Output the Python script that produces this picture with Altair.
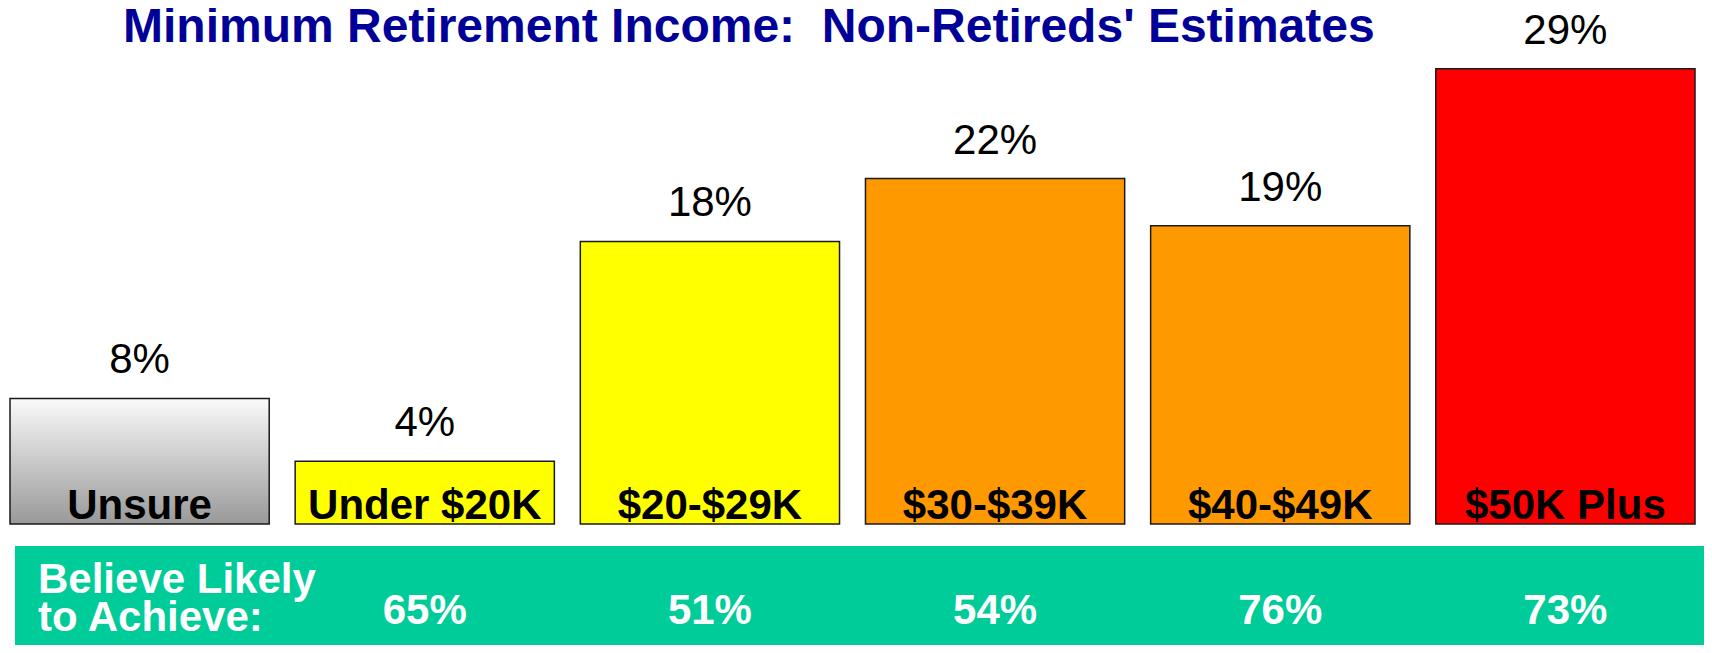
import altair as alt
import pandas as pd

categories = ["Unsure", "Under $20K", "$20-$29K", "$30-$39K", "$40-$49K", "$50K Plus"]
estimate_pct = [8, 4, 18, 22, 19, 29]
likely_pct = [None, 65, 51, 54, 76, 73]
bar_colors = ["#CCCCCC", "#FFFF00", "#FFFF00", "#FF9900", "#FF9900", "#FF0000"]
title_text = "Minimum Retirement Income:\u00a0 Non-Retireds' Estimates"
row_label = "Believe Likely\nto Achieve:"

df = pd.DataFrame({"cat": categories, "pct": estimate_pct, "likely": likely_pct})

FONT = "Liberation Sans"

x_enc = alt.X(
    "cat:N",
    sort=categories,
    scale=alt.Scale(domain=categories, range=[2, 1687], paddingInner=0.091, paddingOuter=0),
    axis=None,
)
y_scale = alt.Scale(domain=[0, 30], range=[516, 45])

base = alt.Chart(df)

band = alt.Chart(pd.DataFrame({"a": [0]})).mark_rect(color="#00CC99").encode(
    x=alt.value(7), x2=alt.value(1696), y=alt.value(538), y2=alt.value(637)
)

gradient = alt.Gradient(
    gradient="linear",
    stops=[alt.GradientStop(color="#FAFAFA", offset=0), alt.GradientStop(color="#999999", offset=1)],
    x1=0, x2=0, y1=0, y2=1,
)

unsure_bar = base.transform_filter(alt.datum.cat == "Unsure").mark_bar(
    fill=gradient, stroke="#1a1a1a", strokeWidth=1.5
).encode(x=x_enc, y=alt.Y("pct:Q", scale=y_scale, axis=None))

other_bars = base.transform_filter(alt.datum.cat != "Unsure").mark_bar(
    stroke="#1a1a1a", strokeWidth=1.5
).encode(
    x=x_enc,
    y=alt.Y("pct:Q", scale=y_scale, axis=None),
    fill=alt.Fill("cat:N", scale=alt.Scale(domain=categories, range=bar_colors), legend=None),
)

value_labels = base.transform_calculate(lbl="datum.pct + '%'").mark_text(
    font=FONT, fontSize=42, color="black", baseline="alphabetic", dy=-25
).encode(x=x_enc, y=alt.Y("pct:Q", scale=y_scale, axis=None), text="lbl:N")

cat_labels = base.mark_text(
    font=FONT, fontSize=42, fontWeight="bold", color="black", baseline="alphabetic", dy=-5
).encode(x=x_enc, y=alt.datum(0, scale=y_scale), text="cat:N")

likely_labels = base.transform_filter("isValid(datum.likely)").transform_calculate(
    lbl="datum.likely + '%'"
).mark_text(
    font=FONT, fontSize=42, fontWeight="bold", color="white", baseline="alphabetic"
).encode(x=x_enc, y=alt.value(616), text="lbl:N")

believe = alt.Chart(pd.DataFrame({"t": [row_label]})).mark_text(
    font=FONT, fontSize=42, fontWeight="bold", color="white", align="left",
    baseline="alphabetic", lineBreak="\n", lineHeight=38
).encode(x=alt.value(30), y=alt.value(585), text="t:N")

title = alt.Chart(pd.DataFrame({"t": [title_text]})).mark_text(
    font=FONT, fontSize=48, fontWeight="bold", color="#000099", align="left",
    baseline="alphabetic"
).encode(x=alt.value(115), y=alt.value(34), text="t:N")

chart = alt.layer(
    band, unsure_bar, other_bars, value_labels, cat_labels, likely_labels, believe, title
).properties(
    width=1696,
    height=637,
    autosize=alt.AutoSizeParams(type="none"),
    padding=0,
).configure_view(stroke=None)

chart.save("out.html", embed_options={"renderer": "svg", "actions": False})
